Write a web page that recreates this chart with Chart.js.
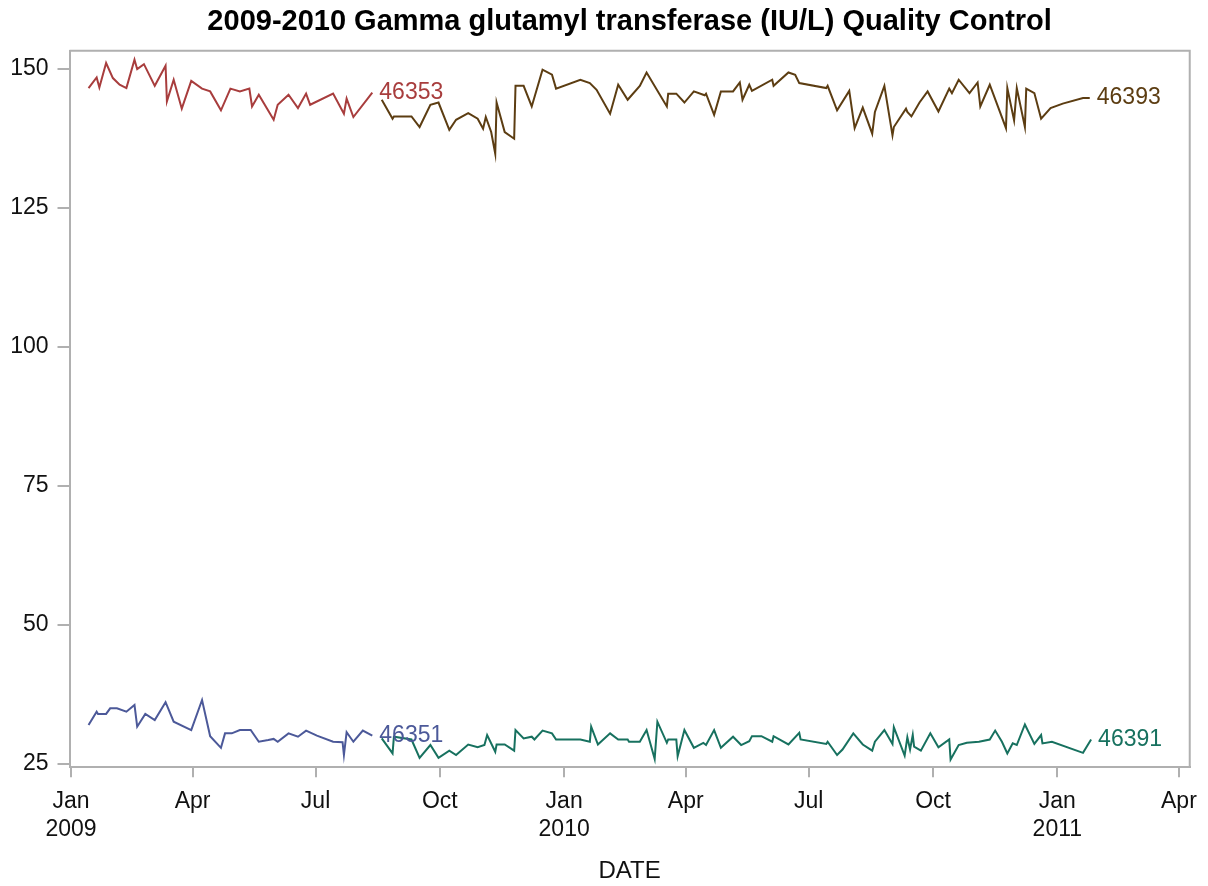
<!DOCTYPE html>
<html>
<head>
    <meta charset="UTF-8">
    <title>Gamma glutamyl transferase QC</title>
    <script src="https://cdn.jsdelivr.net/npm/chart.js@4.4.1/dist/chart.umd.min.js"></script>
    <style>
        * { margin: 0; padding: 0; box-sizing: border-box; }
        body { background: #fff; width: 1208px; height: 886px; overflow: hidden; }
        .wrap { width: 1208px; height: 886px; position: relative; }
    </style>
</head>
<body>
    <div class="wrap"><canvas id="qc"></canvas></div>

    <script>
        // x = days since 1 Jan 2009
        const lot46353Days = [13, 19, 21, 26, 31, 36, 41, 47, 49, 54, 62, 70, 71, 76, 82, 89, 97, 103, 111, 118, 125, 132, 134, 139, 150, 153, 161, 168, 174, 177, 194, 202, 204, 209, 223];
        const lot46353Vals = [146.5, 148.4, 146.6, 151.0, 148.3, 147.1, 146.5, 151.6, 149.9, 150.8, 146.9, 150.5, 144.1, 148.0, 142.8, 147.8, 146.4, 145.9, 142.5, 146.4, 145.9, 146.4, 143.2, 145.3, 140.8, 143.5, 145.3, 142.9, 145.5, 143.5, 145.5, 141.9, 144.6, 141.3, 145.7];

        const lot46351Days = [13, 19, 20, 26, 29, 34, 41, 47, 49, 55, 62, 70, 76, 89, 97, 103, 111, 114, 119, 125, 133, 139, 146, 150, 153, 161, 168, 174, 182, 194, 201, 202, 204, 209, 216, 223];
        const lot46351Vals = [32.0, 34.4, 34.0, 34.0, 35.0, 35.0, 34.4, 35.6, 31.7, 34.0, 32.9, 36.1, 32.6, 31.1, 36.5, 30.0, 27.9, 30.5, 30.5, 31.1, 31.1, 29.0, 29.3, 29.5, 29.0, 30.5, 29.9, 31.0, 30.1, 29.0, 28.9, 26.6, 30.7, 29.0, 31.0, 30.1];

        const lot46393Days = [230, 238, 239, 252, 258, 266, 272, 280, 285, 294, 301, 305, 307, 311, 314, 315, 321, 328, 329, 335, 341, 349, 356, 359, 377, 384, 389, 399, 405, 412, 421, 426, 441, 442, 448, 454, 461, 469, 470, 476, 481, 490, 495, 497, 502, 504, 519, 520, 531, 536, 539, 559, 560, 567, 576, 580, 586, 593, 595, 602, 608, 609, 618, 619, 622, 628, 634, 642, 650, 652, 657, 665, 671, 673, 680, 692, 693, 698, 700, 706, 707, 713, 718, 725, 734, 749, 754];
        const lot46393Vals = [144.4, 141.0, 141.4, 141.4, 139.5, 143.5, 143.9, 139.0, 140.8, 142.0, 141.0, 139.2, 141.3, 138.6, 134.7, 143.9, 138.6, 137.4, 146.9, 146.9, 143.2, 149.8, 148.9, 146.4, 148.0, 147.4, 146.2, 141.9, 147.1, 144.4, 146.9, 149.3, 143.2, 145.5, 145.5, 143.9, 145.9, 145.2, 145.5, 141.7, 145.9, 145.9, 147.5, 144.4, 147.1, 146.0, 148.0, 146.9, 149.3, 148.9, 147.4, 146.5, 146.9, 142.5, 146.0, 139.3, 143.0, 138.3, 142.2, 146.9, 138.0, 139.5, 142.8, 142.2, 141.4, 143.9, 145.9, 142.3, 146.4, 145.6, 148.0, 145.6, 147.5, 143.2, 147.1, 139.3, 146.5, 140.7, 146.5, 139.5, 146.4, 145.6, 141.0, 142.9, 143.7, 144.7, 144.7];

        const lot46391Days = [230, 238, 239, 252, 258, 266, 272, 280, 285, 294, 301, 306, 308, 314, 315, 321, 328, 329, 335, 341, 343, 349, 356, 359, 377, 384, 385, 390, 399, 405, 412, 413, 421, 426, 432, 434, 441, 442, 448, 449, 454, 461, 468, 470, 476, 481, 490, 496, 502, 504, 511, 519, 520, 531, 539, 540, 559, 560, 567, 571, 579, 586, 593, 595, 602, 608, 609, 617, 619, 621, 623, 624, 629, 636, 642, 650, 651, 657, 663, 672, 680, 684, 689, 693, 697, 700, 706, 713, 718, 719, 726, 749, 755];
        const lot46391Vals = [29.6, 26.9, 29.9, 29.4, 26.1, 28.4, 26.1, 27.4, 26.6, 28.5, 28.0, 28.4, 30.2, 27.2, 28.5, 28.5, 27.4, 31.1, 29.6, 29.9, 29.4, 31.0, 30.5, 29.4, 29.4, 29.0, 31.7, 28.5, 30.5, 29.4, 29.4, 29.0, 29.0, 31.1, 25.9, 32.6, 28.8, 29.4, 29.4, 26.4, 31.1, 27.9, 28.8, 28.4, 31.1, 27.9, 29.9, 28.4, 29.1, 30.0, 30.0, 29.0, 30.0, 28.5, 30.6, 29.4, 28.6, 29.0, 26.6, 27.6, 30.5, 28.5, 27.4, 29.0, 31.1, 28.6, 31.6, 26.5, 29.8, 27.6, 30.2, 28.1, 27.4, 30.5, 28.0, 29.4, 25.8, 28.4, 28.8, 29.0, 29.4, 31.0, 29.0, 26.9, 28.7, 28.4, 32.1, 28.6, 30.2, 28.7, 29.0, 27.0, 29.4];

        const xTickDays = [0, 90, 181, 273, 365, 455, 546, 638, 730, 820];
        const xTickLabels = [['Jan', '2009'], 'Apr', 'Jul', 'Oct', ['Jan', '2010'], 'Apr', 'Jul', 'Oct', ['Jan', '2011'], 'Apr'];
        const yTicks = [25, 50, 75, 100, 125, 150];

        const fontFamily = '"Liberation Sans", Arial, sans-serif';
        const frameColor = '#b0b0b0';

        function points(days, vals) {
            return days.map((d, i) => ({ x: d, y: vals[i] }));
        }

        function series(label, days, vals, color) {
            return {
                label: label,
                data: points(days, vals),
                borderColor: color,
                borderWidth: 2,
                pointRadius: 0,
                tension: 0,
                fill: false
            };
        }

        // top + right edge of the frame
        const framePlugin = {
            id: 'frame',
            afterDraw(chart) {
                const { ctx, chartArea: a } = chart;
                ctx.save();
                ctx.strokeStyle = frameColor;
                ctx.lineWidth = 2;
                ctx.beginPath();
                ctx.moveTo(a.left, a.top);
                ctx.lineTo(a.right, a.top);
                ctx.lineTo(a.right, a.bottom);
                ctx.stroke();
                ctx.restore();
            }
        };

        // lot number written after the last point of each line
        const endLabels = {
            id: 'endLabels',
            afterDatasetsDraw(chart) {
                const ctx = chart.ctx;
                ctx.save();
                ctx.font = '23px ' + fontFamily;
                ctx.textAlign = 'left';
                ctx.textBaseline = 'middle';
                chart.data.datasets.forEach((ds, i) => {
                    const pts = chart.getDatasetMeta(i).data;
                    const last = pts[pts.length - 1];
                    ctx.fillStyle = ds.borderColor;
                    ctx.fillText(ds.label, last.x + 7, last.y);
                });
                ctx.restore();
            }
        };

        new Chart(document.getElementById('qc'), {
            type: 'line',
            data: {
                datasets: [
                    series('46353', lot46353Days, lot46353Vals, '#a83d3d'),
                    series('46393', lot46393Days, lot46393Vals, '#5c3d12'),
                    series('46351', lot46351Days, lot46351Vals, '#4c5999'),
                    series('46391', lot46391Days, lot46391Vals, '#17715f')
                ]
            },
            options: {
                responsive: true,
                maintainAspectRatio: false,
                animation: false,
                layout: { padding: { left: 0, right: 18, top: 0, bottom: 0 } },
                plugins: {
                    legend: { display: false },
                    tooltip: { enabled: false },
                    title: {
                        display: true,
                        fullSize: false,
                        text: '2009-2010 Gamma glutamyl transferase (IU/L) Quality Control',
                        color: '#000',
                        font: { family: fontFamily, size: 29, weight: 'bold' },
                        padding: { top: 5, bottom: 11 }
                    }
                },
                scales: {
                    x: {
                        type: 'linear',
                        min: -1.1,
                        max: 828,
                        afterFit(scale) { scale.height = 118.7; },
                        afterBuildTicks(scale) {
                            scale.ticks = xTickDays.map(v => ({ value: v }));
                        },
                        ticks: {
                            autoSkip: false,
                            maxRotation: 0,
                            padding: 11,
                            color: '#111',
                            font: { family: fontFamily, size: 23 },
                            callback: (v) => xTickLabels[xTickDays.indexOf(v)]
                        },
                        grid: {
                            drawOnChartArea: false,
                            drawTicks: true,
                            tickLength: 10,
                            color: frameColor,
                            lineWidth: 2
                        },
                        border: { color: frameColor, width: 2 },
                        title: {
                            display: true,
                            text: 'DATE',
                            color: '#111',
                            font: { family: fontFamily, size: 24 },
                            padding: { top: 0, bottom: 0 }
                        }
                    },
                    y: {
                        min: 24.4,
                        max: 153.2,
                        afterFit(scale) { scale.width = 69.5; },
                        afterBuildTicks(scale) {
                            scale.ticks = yTicks.map(v => ({ value: v }));
                        },
                        ticks: {
                            padding: 9,
                            color: '#111',
                            font: { family: fontFamily, size: 23 }
                        },
                        grid: {
                            drawOnChartArea: false,
                            drawTicks: true,
                            tickLength: 12,
                            color: frameColor,
                            lineWidth: 2
                        },
                        border: { color: frameColor, width: 2 }
                    }
                }
            },
            plugins: [framePlugin, endLabels]
        });
    </script>
</body>
</html>
